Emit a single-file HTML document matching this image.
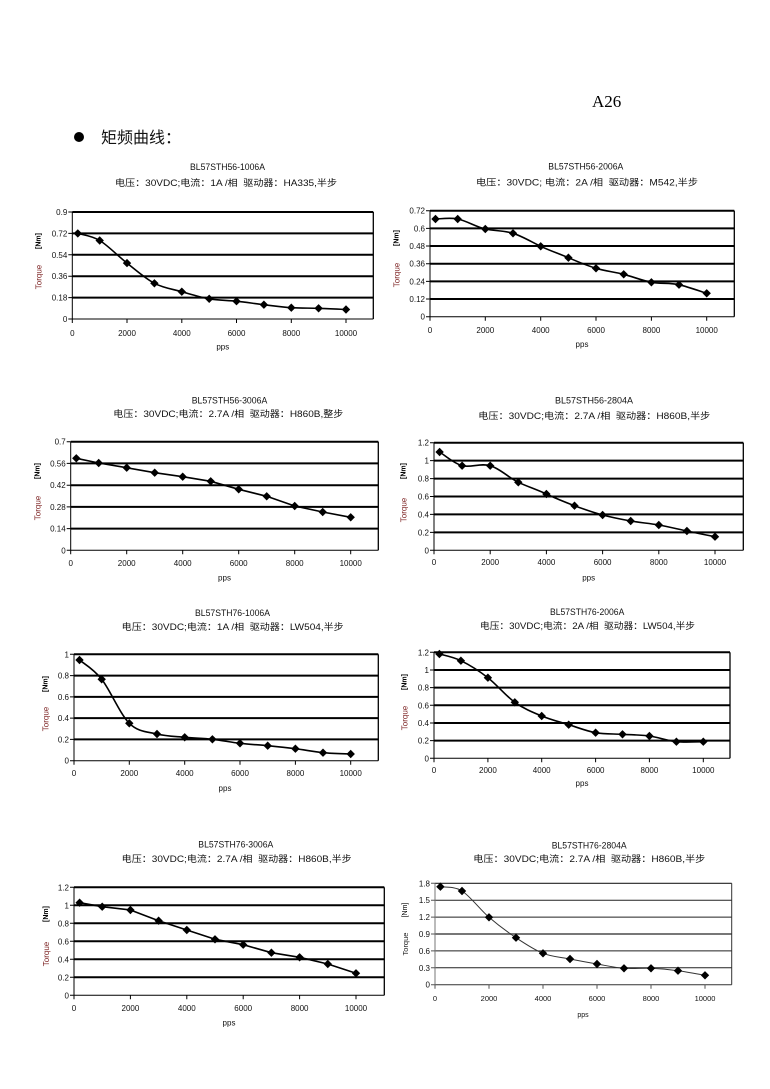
<!DOCTYPE html>
<html><head><meta charset="utf-8">
<style>
html,body{margin:0;padding:0;background:#fff;}
svg{display:block;}
text{font-family:"Liberation Sans","Noto Sans CJK SC",sans-serif;}
.t{font-size:9px;fill:#111;white-space:pre;}
.ky{font-size:8px;fill:#111;text-anchor:end;}
.kx{font-size:8px;fill:#111;text-anchor:middle;}
.tq{font-size:8px;fill:#7a1e1e;text-anchor:middle;dominant-baseline:central;}
.nm{font-size:7px;font-weight:bold;fill:#000;text-anchor:middle;dominant-baseline:central;}
.g{stroke:#000;stroke-width:2;}
.a{stroke:#000;stroke-width:1;fill:none;}
.ln{fill:none;stroke:#000;stroke-width:1.6;stroke-linejoin:round;stroke-linecap:round;}
</style></head>
<body>
<svg width="770" height="1089" viewBox="0 0 770 1089" xmlns="http://www.w3.org/2000/svg">
<defs><polygon id="d" points="0,-4.2 4.2,0 0,4.2 -4.2,0" fill="#000"/></defs>

<text x="592" y="107" style="font-family:'Liberation Serif','Noto Serif CJK SC',serif;font-size:17px;fill:#000">A26</text>
<circle cx="79" cy="137" r="5" fill="#000"/>
<text x="101" y="143" style="font-family:'Liberation Sans','Noto Sans CJK SC',sans-serif;font-size:16px;fill:#111">矩频曲线：</text>

<!-- Chart 1 -->
<text class="t" x="190" y="170" textLength="75" lengthAdjust="spacingAndGlyphs">BL57STH56-1006A</text>
<text class="t" x="115" y="186" textLength="222" lengthAdjust="spacingAndGlyphs">电压：30VDC;电流：1A /相  驱动器：HA335,半步</text>
<g>
<line class="g" x1="72.3" y1="297.6" x2="373.3" y2="297.6"/>
<line class="g" x1="72.3" y1="276.2" x2="373.3" y2="276.2"/>
<line class="g" x1="72.3" y1="254.8" x2="373.3" y2="254.8"/>
<line class="g" x1="72.3" y1="233.4" x2="373.3" y2="233.4"/>
<line class="g" x1="72.3" y1="212" x2="373.3" y2="212"/>
<line class="a" x1="373.3" y1="212" x2="373.3" y2="319" style="stroke-width:1.3"/>
<line class="a" x1="72.3" y1="319" x2="373.3" y2="319"/>
<line class="a" x1="72.3" y1="212" x2="72.3" y2="319"/>
<path class="a" d="M68.3 319H72.3M68.3 297.6H72.3M68.3 276.2H72.3M68.3 254.8H72.3M68.3 233.4H72.3M68.3 212H72.3M72.3 319V323M127 319V323M181.8 319V323M236.5 319V323M291.3 319V323M346 319V323"/>
<text class="ky" x="67.3" y="322">0</text><text class="ky" x="67.3" y="300.6">0.18</text><text class="ky" x="67.3" y="279.2">0.36</text><text class="ky" x="67.3" y="257.8">0.54</text><text class="ky" x="67.3" y="236.4">0.72</text><text class="ky" x="67.3" y="215">0.9</text>
<text class="kx" x="72.3" y="336">0</text><text class="kx" x="127" y="336">2000</text><text class="kx" x="181.8" y="336">4000</text><text class="kx" x="236.5" y="336">6000</text><text class="kx" x="291.3" y="336">8000</text><text class="kx" x="346" y="336">10000</text>
<text class="kx" x="222.8" y="349.5">pps</text>
<text class="tq" transform="rotate(-90 39 277)" x="39" y="277">Torque</text>
<text class="nm" transform="rotate(-90 39 241)" x="39" y="241">[Nm]</text>
<path class="ln" d="M77.8,233.4 C81.45,234.58 91.5,235.55 99.7,240.5 C107.9,245.45 117.88,255.97 127,263.1 C136.12,270.23 145.27,278.53 154.4,283.3 C163.53,288.07 172.67,289.12 181.8,291.7 C190.93,294.28 200.08,297.22 209.2,298.8 C218.32,300.38 227.38,300.22 236.5,301.2 C245.62,302.18 254.77,303.62 263.9,304.7 C273.03,305.78 282.18,307.1 291.3,307.7 C300.42,308.3 309.48,308 318.6,308.3 C327.72,308.6 341.43,309.3 346,309.5"/>
<use href="#d" x="77.8" y="233.4"/><use href="#d" x="99.7" y="240.5"/><use href="#d" x="127" y="263.1"/><use href="#d" x="154.4" y="283.3"/><use href="#d" x="181.8" y="291.7"/><use href="#d" x="209.2" y="298.8"/><use href="#d" x="236.5" y="301.2"/><use href="#d" x="263.9" y="304.7"/><use href="#d" x="291.3" y="307.7"/><use href="#d" x="318.6" y="308.3"/><use href="#d" x="346" y="309.5"/>
</g>

<!-- Chart 2 -->
<text class="t" x="548.3" y="169.5" textLength="75" lengthAdjust="spacingAndGlyphs">BL57STH56-2006A</text>
<text class="t" x="476" y="185.5" textLength="222" lengthAdjust="spacingAndGlyphs">电压：30VDC; 电流：2A /相  驱动器：M542,半步</text>
<g>
<line class="g" x1="430" y1="299" x2="734.3" y2="299"/>
<line class="g" x1="430" y1="281.4" x2="734.3" y2="281.4"/>
<line class="g" x1="430" y1="263.7" x2="734.3" y2="263.7"/>
<line class="g" x1="430" y1="246" x2="734.3" y2="246"/>
<line class="g" x1="430" y1="228.4" x2="734.3" y2="228.4"/>
<line class="g" x1="430" y1="210.7" x2="734.3" y2="210.7"/>
<line class="a" x1="734.3" y1="210.7" x2="734.3" y2="316.7" style="stroke-width:1.3"/>
<line class="a" x1="430" y1="316.7" x2="734.3" y2="316.7"/>
<line class="a" x1="430" y1="210.7" x2="430" y2="316.7"/>
<path class="a" d="M426 316.7H430M426 299H430M426 281.4H430M426 263.7H430M426 246H430M426 228.4H430M426 210.7H430M430 316.7V320.7M485.3 316.7V320.7M540.7 316.7V320.7M596 316.7V320.7M651.4 316.7V320.7M706.7 316.7V320.7"/>
<text class="ky" x="425" y="319.7">0</text><text class="ky" x="425" y="302">0.12</text><text class="ky" x="425" y="284.4">0.24</text><text class="ky" x="425" y="266.7">0.36</text><text class="ky" x="425" y="249">0.48</text><text class="ky" x="425" y="231.4">0.6</text><text class="ky" x="425" y="213.7">0.72</text>
<text class="kx" x="430" y="333">0</text><text class="kx" x="485.3" y="333">2000</text><text class="kx" x="540.7" y="333">4000</text><text class="kx" x="596" y="333">6000</text><text class="kx" x="651.4" y="333">8000</text><text class="kx" x="706.7" y="333">10000</text>
<text class="kx" x="582" y="347">pps</text>
<text class="tq" transform="rotate(-90 397 275)" x="397" y="275">Torque</text>
<text class="nm" transform="rotate(-90 397 238)" x="397" y="238">[Nm]</text>
<path class="ln" d="M435.5,219 C439.2,219 450.3,217.3 457.7,219 C466.4,220.7 476.2,227 485.3,229 C494.5,231 503.8,230.4 513,233.3 C522.2,236.2 531.5,241.9 540.7,246.3 C549.9,250.7 559.2,253.7 568.4,257.7 C577.6,261.7 586.8,265.5 596,268.3 C605.2,271.1 614.5,271.9 623.7,274.3 C632.9,276.7 642.2,280.6 651.4,282.3 C660.6,284 669.8,282.5 679,284.7 C688.2,286.9 702.1,291.9 706.7,293.3"/>
<use href="#d" x="435.5" y="219"/><use href="#d" x="457.7" y="219"/><use href="#d" x="485.3" y="229"/><use href="#d" x="513" y="233.3"/><use href="#d" x="540.7" y="246.3"/><use href="#d" x="568.4" y="257.7"/><use href="#d" x="596" y="268.3"/><use href="#d" x="623.7" y="274.3"/><use href="#d" x="651.4" y="282.3"/><use href="#d" x="679" y="284.7"/><use href="#d" x="706.7" y="293.3"/>
</g>

<!-- Chart 3 -->
<text class="t" x="191.7" y="403.5" textLength="75.6" lengthAdjust="spacingAndGlyphs">BL57STH56-3006A</text>
<text class="t" x="113.3" y="417" textLength="230" lengthAdjust="spacingAndGlyphs">电压：30VDC;电流：2.7A /相  驱动器：H860B,整步</text>
<g>
<line class="g" x1="70.7" y1="528.6" x2="378.3" y2="528.6"/>
<line class="g" x1="70.7" y1="506.9" x2="378.3" y2="506.9"/>
<line class="g" x1="70.7" y1="485.2" x2="378.3" y2="485.2"/>
<line class="g" x1="70.7" y1="463.4" x2="378.3" y2="463.4"/>
<line class="g" x1="70.7" y1="441.7" x2="378.3" y2="441.7"/>
<line class="a" x1="378.3" y1="441.7" x2="378.3" y2="550.3" style="stroke-width:1.3"/>
<line class="a" x1="70.7" y1="550.3" x2="378.3" y2="550.3"/>
<line class="a" x1="70.7" y1="441.7" x2="70.7" y2="550.3"/>
<path class="a" d="M66.7 550.3H70.7M66.7 528.6H70.7M66.7 506.9H70.7M66.7 485.2H70.7M66.7 463.4H70.7M66.7 441.7H70.7M70.7 550.3V554.3M126.7 550.3V554.3M182.7 550.3V554.3M238.7 550.3V554.3M294.7 550.3V554.3M350.7 550.3V554.3"/>
<text class="ky" x="65.7" y="553.3">0</text><text class="ky" x="65.7" y="531.6">0.14</text><text class="ky" x="65.7" y="509.9">0.28</text><text class="ky" x="65.7" y="488.2">0.42</text><text class="ky" x="65.7" y="466.4">0.56</text><text class="ky" x="65.7" y="444.7">0.7</text>
<text class="kx" x="70.7" y="566">0</text><text class="kx" x="126.7" y="566">2000</text><text class="kx" x="182.7" y="566">4000</text><text class="kx" x="238.7" y="566">6000</text><text class="kx" x="294.7" y="566">8000</text><text class="kx" x="350.7" y="566">10000</text>
<text class="kx" x="224.5" y="580.5">pps</text>
<text class="tq" transform="rotate(-90 38 508)" x="38" y="508">Torque</text>
<text class="nm" transform="rotate(-90 38 471)" x="38" y="471">[Nm]</text>
<polyline class="ln" points="76.3,458.3 98.7,463 126.7,467.7 154.7,472.7 182.7,476.7 210.7,481.3 238.7,489.3 266.7,496.3 294.7,506 322.7,512 350.7,517.3"/>
<use href="#d" x="76.3" y="458.3"/><use href="#d" x="98.7" y="463"/><use href="#d" x="126.7" y="467.7"/><use href="#d" x="154.7" y="472.7"/><use href="#d" x="182.7" y="476.7"/><use href="#d" x="210.7" y="481.3"/><use href="#d" x="238.7" y="489.3"/><use href="#d" x="266.7" y="496.3"/><use href="#d" x="294.7" y="506"/><use href="#d" x="322.7" y="512"/><use href="#d" x="350.7" y="517.3"/>
</g>

<!-- Chart 4 -->
<text class="t" x="555" y="403.5" textLength="78" lengthAdjust="spacingAndGlyphs">BL57STH56-2804A</text>
<text class="t" x="478.3" y="419" textLength="232" lengthAdjust="spacingAndGlyphs">电压：30VDC;电流：2.7A /相  驱动器：H860B,半步</text>
<g>
<line class="g" x1="434" y1="532.4" x2="743.3" y2="532.4"/>
<line class="g" x1="434" y1="514.4" x2="743.3" y2="514.4"/>
<line class="g" x1="434" y1="496.5" x2="743.3" y2="496.5"/>
<line class="g" x1="434" y1="478.6" x2="743.3" y2="478.6"/>
<line class="g" x1="434" y1="460.6" x2="743.3" y2="460.6"/>
<line class="g" x1="434" y1="442.7" x2="743.3" y2="442.7"/>
<line class="a" x1="743.3" y1="442.7" x2="743.3" y2="550.3" style="stroke-width:1.3"/>
<line class="a" x1="434" y1="550.3" x2="743.3" y2="550.3"/>
<line class="a" x1="434" y1="442.7" x2="434" y2="550.3"/>
<path class="a" d="M430 550.3H434M430 532.4H434M430 514.4H434M430 496.5H434M430 478.6H434M430 460.6H434M430 442.7H434M434 550.3V554.3M490.2 550.3V554.3M546.4 550.3V554.3M602.6 550.3V554.3M658.8 550.3V554.3M715 550.3V554.3"/>
<text class="ky" x="429" y="553.3">0</text><text class="ky" x="429" y="535.4">0.2</text><text class="ky" x="429" y="517.4">0.4</text><text class="ky" x="429" y="499.5">0.6</text><text class="ky" x="429" y="481.6">0.8</text><text class="ky" x="429" y="463.6">1</text><text class="ky" x="429" y="445.7">1.2</text>
<text class="kx" x="434" y="565">0</text><text class="kx" x="490.2" y="565">2000</text><text class="kx" x="546.4" y="565">4000</text><text class="kx" x="602.6" y="565">6000</text><text class="kx" x="658.8" y="565">8000</text><text class="kx" x="715" y="565">10000</text>
<text class="kx" x="588.7" y="580.5">pps</text>
<text class="tq" transform="rotate(-90 404 510)" x="404" y="510">Torque</text>
<text class="nm" transform="rotate(-90 404 471)" x="404" y="471">[Nm]</text>
<path class="ln" d="M439.6,452 C443.4,454.3 453.7,463.4 462.1,465.7 C470.5,468 480.5,462.9 490.2,465.7 C499.9,468.5 508.9,477.9 518.3,482.3 C527.7,486.7 537,489.6 546.4,494 C555.8,498.4 565.1,502.2 574.5,505.7 C583.9,509.2 593.2,512.5 602.6,515 C612,517.5 621.3,519.3 630.7,521 C640.1,522.7 649.4,523.3 658.8,525 C668.2,526.7 677.5,529 686.9,531 C696.3,533 710.3,535.8 715,536.7"/>
<use href="#d" x="439.6" y="452"/><use href="#d" x="462.1" y="465.7"/><use href="#d" x="490.2" y="465.7"/><use href="#d" x="518.3" y="482.3"/><use href="#d" x="546.4" y="494"/><use href="#d" x="574.5" y="505.7"/><use href="#d" x="602.6" y="515"/><use href="#d" x="630.7" y="521"/><use href="#d" x="658.8" y="525"/><use href="#d" x="686.9" y="531"/><use href="#d" x="715" y="536.7"/>
</g>

<!-- Chart 5 -->
<text class="t" x="195" y="616" textLength="75" lengthAdjust="spacingAndGlyphs">BL57STH76-1006A</text>
<text class="t" x="121.7" y="630" textLength="222" lengthAdjust="spacingAndGlyphs">电压：30VDC;电流：1A /相  驱动器：LW504,半步</text>
<g>
<line class="g" x1="74" y1="739.4" x2="378.3" y2="739.4"/>
<line class="g" x1="74" y1="718.1" x2="378.3" y2="718.1"/>
<line class="g" x1="74" y1="696.9" x2="378.3" y2="696.9"/>
<line class="g" x1="74" y1="675.6" x2="378.3" y2="675.6"/>
<line class="g" x1="74" y1="654.3" x2="378.3" y2="654.3"/>
<line class="a" x1="378.3" y1="654.3" x2="378.3" y2="760.7" style="stroke-width:1.3"/>
<line class="a" x1="74" y1="760.7" x2="378.3" y2="760.7"/>
<line class="a" x1="74" y1="654.3" x2="74" y2="760.7"/>
<path class="a" d="M70 760.7H74M70 739.4H74M70 718.1H74M70 696.9H74M70 675.6H74M70 654.3H74M74 760.7V764.7M129.3 760.7V764.7M184.7 760.7V764.7M240 760.7V764.7M295.4 760.7V764.7M350.7 760.7V764.7"/>
<text class="ky" x="69" y="763.7">0</text><text class="ky" x="69" y="742.4">0.2</text><text class="ky" x="69" y="721.1">0.4</text><text class="ky" x="69" y="699.9">0.6</text><text class="ky" x="69" y="678.6">0.8</text><text class="ky" x="69" y="657.3">1</text>
<text class="kx" x="74" y="776">0</text><text class="kx" x="129.3" y="776">2000</text><text class="kx" x="184.7" y="776">4000</text><text class="kx" x="240" y="776">6000</text><text class="kx" x="295.4" y="776">8000</text><text class="kx" x="350.7" y="776">10000</text>
<text class="kx" x="225" y="791">pps</text>
<text class="tq" transform="rotate(-90 46 719)" x="46" y="719">Torque</text>
<text class="nm" transform="rotate(-90 46 684)" x="46" y="684">[Nm]</text>
<path class="ln" d="M79.5,660 C83.2,663.22 93.4,668.75 101.7,679.3 C110,689.85 120.08,714.18 129.3,723.3 C138.52,732.42 147.77,731.67 157,734 C166.23,736.33 175.47,736.42 184.7,737.3 C193.93,738.18 203.18,738.3 212.4,739.3 C221.62,740.3 230.78,742.23 240,743.3 C249.22,744.37 258.47,744.8 267.7,745.7 C276.93,746.6 286.18,747.53 295.4,748.7 C304.62,749.87 313.78,751.82 323,752.7 C332.22,753.58 346.08,753.78 350.7,754"/>
<use href="#d" x="79.5" y="660"/><use href="#d" x="101.7" y="679.3"/><use href="#d" x="129.3" y="723.3"/><use href="#d" x="157" y="734"/><use href="#d" x="184.7" y="737.3"/><use href="#d" x="212.4" y="739.3"/><use href="#d" x="240" y="743.3"/><use href="#d" x="267.7" y="745.7"/><use href="#d" x="295.4" y="748.7"/><use href="#d" x="323" y="752.7"/><use href="#d" x="350.7" y="754"/>
</g>

<!-- Chart 6 -->
<text class="t" x="550" y="615" textLength="74.3" lengthAdjust="spacingAndGlyphs">BL57STH76-2006A</text>
<text class="t" x="480" y="629" textLength="215" lengthAdjust="spacingAndGlyphs">电压：30VDC;电流：2A /相  驱动器：LW504,半步</text>
<g>
<line class="g" x1="434" y1="740.6" x2="730" y2="740.6"/>
<line class="g" x1="434" y1="723" x2="730" y2="723"/>
<line class="g" x1="434" y1="705.3" x2="730" y2="705.3"/>
<line class="g" x1="434" y1="687.6" x2="730" y2="687.6"/>
<line class="g" x1="434" y1="670" x2="730" y2="670"/>
<line class="g" x1="434" y1="652.3" x2="730" y2="652.3"/>
<line class="a" x1="730" y1="652.3" x2="730" y2="758.3" style="stroke-width:1.3"/>
<line class="a" x1="434" y1="758.3" x2="730" y2="758.3"/>
<line class="a" x1="434" y1="652.3" x2="434" y2="758.3"/>
<path class="a" d="M430 758.3H434M430 740.6H434M430 723H434M430 705.3H434M430 687.6H434M430 670H434M430 652.3H434M434 758.3V762.3M487.9 758.3V762.3M541.7 758.3V762.3M595.6 758.3V762.3M649.4 758.3V762.3M703.3 758.3V762.3"/>
<text class="ky" x="429" y="761.3">0</text><text class="ky" x="429" y="743.6">0.2</text><text class="ky" x="429" y="726">0.4</text><text class="ky" x="429" y="708.3">0.6</text><text class="ky" x="429" y="690.6">0.8</text><text class="ky" x="429" y="673">1</text><text class="ky" x="429" y="655.3">1.2</text>
<text class="kx" x="434" y="773">0</text><text class="kx" x="487.9" y="773">2000</text><text class="kx" x="541.7" y="773">4000</text><text class="kx" x="595.6" y="773">6000</text><text class="kx" x="649.4" y="773">8000</text><text class="kx" x="703.3" y="773">10000</text>
<text class="kx" x="582" y="786">pps</text>
<text class="tq" transform="rotate(-90 405 718)" x="405" y="718">Torque</text>
<text class="nm" transform="rotate(-90 405 682)" x="405" y="682">[Nm]</text>
<path class="ln" d="M439.4,654 C442.98,655.12 452.82,656.75 460.9,660.7 C468.98,664.65 478.92,670.77 487.9,677.7 C496.88,684.63 505.83,695.92 514.8,702.3 C523.77,708.68 532.72,712.27 541.7,716 C550.68,719.73 559.72,721.92 568.7,724.7 C577.68,727.48 586.63,731.1 595.6,732.7 C604.57,734.3 613.53,733.75 622.5,734.3 C631.47,734.85 640.42,734.77 649.4,736 C658.38,737.23 667.42,740.75 676.4,741.7 C685.38,742.65 698.82,741.7 703.3,741.7"/>
<use href="#d" x="439.4" y="654"/><use href="#d" x="460.9" y="660.7"/><use href="#d" x="487.9" y="677.7"/><use href="#d" x="514.8" y="702.3"/><use href="#d" x="541.7" y="716"/><use href="#d" x="568.7" y="724.7"/><use href="#d" x="595.6" y="732.7"/><use href="#d" x="622.5" y="734.3"/><use href="#d" x="649.4" y="736"/><use href="#d" x="676.4" y="741.7"/><use href="#d" x="703.3" y="741.7"/>
</g>

<!-- Chart 7 -->
<text class="t" x="198.3" y="847.5" textLength="75" lengthAdjust="spacingAndGlyphs">BL57STH76-3006A</text>
<text class="t" x="121.7" y="862" textLength="230" lengthAdjust="spacingAndGlyphs">电压：30VDC;电流：2.7A /相  驱动器：H860B,半步</text>
<g>
<line class="g" x1="74" y1="977.3" x2="384.3" y2="977.3"/>
<line class="g" x1="74" y1="959.3" x2="384.3" y2="959.3"/>
<line class="g" x1="74" y1="941.3" x2="384.3" y2="941.3"/>
<line class="g" x1="74" y1="923.3" x2="384.3" y2="923.3"/>
<line class="g" x1="74" y1="905.3" x2="384.3" y2="905.3"/>
<line class="g" x1="74" y1="887.3" x2="384.3" y2="887.3"/>
<line class="a" x1="384.3" y1="887.3" x2="384.3" y2="995.3" style="stroke-width:1.3"/>
<line class="a" x1="74" y1="995.3" x2="384.3" y2="995.3"/>
<line class="a" x1="74" y1="887.3" x2="74" y2="995.3"/>
<path class="a" d="M70 995.3H74M70 977.3H74M70 959.3H74M70 941.3H74M70 923.3H74M70 905.3H74M70 887.3H74M74 995.3V999.3M130.4 995.3V999.3M186.8 995.3V999.3M243.2 995.3V999.3M299.6 995.3V999.3M356 995.3V999.3"/>
<text class="ky" x="69" y="998.3">0</text><text class="ky" x="69" y="980.3">0.2</text><text class="ky" x="69" y="962.3">0.4</text><text class="ky" x="69" y="944.3">0.6</text><text class="ky" x="69" y="926.3">0.8</text><text class="ky" x="69" y="908.3">1</text><text class="ky" x="69" y="890.3">1.2</text>
<text class="kx" x="74" y="1011">0</text><text class="kx" x="130.4" y="1011">2000</text><text class="kx" x="186.8" y="1011">4000</text><text class="kx" x="243.2" y="1011">6000</text><text class="kx" x="299.6" y="1011">8000</text><text class="kx" x="356" y="1011">10000</text>
<text class="kx" x="229" y="1025.5">pps</text>
<text class="tq" transform="rotate(-90 46.7 954)" x="46.7" y="954">Torque</text>
<text class="nm" transform="rotate(-90 46.7 914)" x="46.7" y="914">[Nm]</text>
<polyline class="ln" points="79.6,902.7 102.2,906.7 130.4,910 158.6,920.7 186.8,930 215,939.3 243.2,944.7 271.4,952.7 299.6,957.3 327.8,964 356,973.3"/>
<use href="#d" x="79.6" y="902.7"/><use href="#d" x="102.2" y="906.7"/><use href="#d" x="130.4" y="910"/><use href="#d" x="158.6" y="920.7"/><use href="#d" x="186.8" y="930"/><use href="#d" x="215" y="939.3"/><use href="#d" x="243.2" y="944.7"/><use href="#d" x="271.4" y="952.7"/><use href="#d" x="299.6" y="957.3"/><use href="#d" x="327.8" y="964"/><use href="#d" x="356" y="973.3"/>
</g>

<!-- Chart 8 -->
<text class="t" x="551.7" y="848.5" textLength="75" lengthAdjust="spacingAndGlyphs">BL57STH76-2804A</text>
<text class="t" x="473.3" y="862" textLength="232" lengthAdjust="spacingAndGlyphs">电压：30VDC;电流：2.7A /相  驱动器：H860B,半步</text>
<g>
<line x1="435" y1="967.8" x2="731.7" y2="967.8" stroke="#222" stroke-width="1"/>
<line x1="435" y1="950.9" x2="731.7" y2="950.9" stroke="#222" stroke-width="1"/>
<line x1="435" y1="934" x2="731.7" y2="934" stroke="#777" stroke-width="2"/>
<line x1="435" y1="917.1" x2="731.7" y2="917.1" stroke="#222" stroke-width="1"/>
<line x1="435" y1="900.2" x2="731.7" y2="900.2" stroke="#222" stroke-width="1"/>
<line x1="435" y1="883.3" x2="731.7" y2="883.3" stroke="#222" stroke-width="1.2"/>
<line x1="731.7" y1="883.3" x2="731.7" y2="984.7" stroke="#333" stroke-width="1"/>
<line x1="435" y1="984.7" x2="731.7" y2="984.7" stroke="#333" stroke-width="1"/>
<line x1="435" y1="883.3" x2="435" y2="984.7" stroke="#777" stroke-width="1"/>
<path fill="none" stroke="#555" stroke-width="1" d="M431 984.7H435M431 967.8H435M431 950.9H435M431 934H435M431 917.1H435M431 900.2H435M431 883.3H435M435 984.7V988.7M489 984.7V988.7M543 984.7V988.7M597 984.7V988.7M651 984.7V988.7M705 984.7V988.7"/>
<text class="ky" x="430" y="987.7">0</text><text class="ky" x="430" y="970.8">0.3</text><text class="ky" x="430" y="953.9">0.6</text><text class="ky" x="430" y="937">0.9</text><text class="ky" x="430" y="920.1">1.2</text><text class="ky" x="430" y="903.2">1.5</text><text class="ky" x="430" y="886.3">1.8</text>
<text class="kx" x="435" y="1001" style="font-size:7.5px">0</text><text class="kx" x="489" y="1001" style="font-size:7.5px">2000</text><text class="kx" x="543" y="1001" style="font-size:7.5px">4000</text><text class="kx" x="597" y="1001" style="font-size:7.5px">6000</text><text class="kx" x="651" y="1001" style="font-size:7.5px">8000</text><text class="kx" x="705" y="1001" style="font-size:7.5px">10000</text>
<text class="kx" x="583" y="1017" style="font-size:7px">pps</text>
<text class="tq" transform="rotate(-90 405.7 944)" x="405.7" y="944" style="fill:#222;font-size:7.5px">Torque</text>
<text class="nm" transform="rotate(-90 405.7 910)" x="405.7" y="910" style="font-weight:normal">[Nm]</text>
<path fill="none" stroke="#333" stroke-width="1" stroke-linejoin="round" d="M440.4,886.7 C444,887.42 453.9,885.9 462,891 C470.1,896.1 480,909.52 489,917.3 C498,925.08 507,931.7 516,937.7 C525,943.7 534,949.75 543,953.3 C552,956.85 561,957.22 570,959 C579,960.78 588,962.45 597,964 C606,965.55 615,967.58 624,968.3 C633,969.02 642,967.9 651,968.3 C660,968.7 669,969.53 678,970.7 C687,971.87 700.5,974.53 705,975.3"/>
<use href="#d" x="440.4" y="886.7"/><use href="#d" x="462" y="891"/><use href="#d" x="489" y="917.3"/><use href="#d" x="516" y="937.7"/><use href="#d" x="543" y="953.3"/><use href="#d" x="570" y="959"/><use href="#d" x="597" y="964"/><use href="#d" x="624" y="968.3"/><use href="#d" x="651" y="968.3"/><use href="#d" x="678" y="970.7"/><use href="#d" x="705" y="975.3"/>
</g>
</svg>
</body></html>
